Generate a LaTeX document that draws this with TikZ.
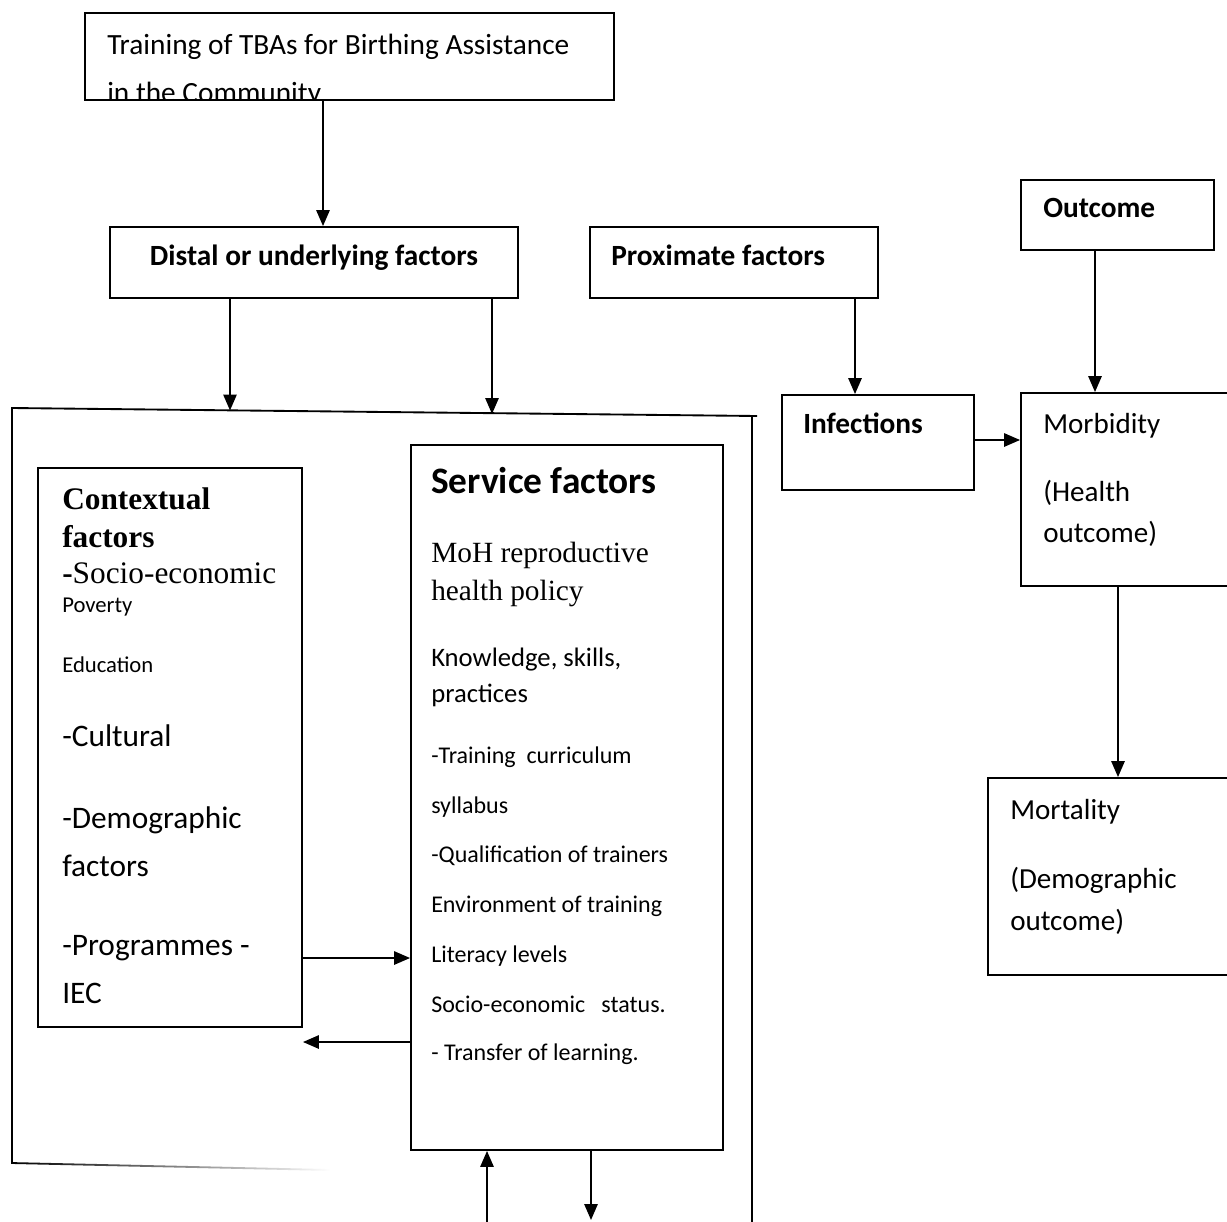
\documentclass[tikz,border=0pt]{standalone}
\usepackage{fontspec}
\setmainfont{Liberation Serif}
\setsansfont{Carlito}
\usetikzlibrary{arrows.meta,fit}
\begin{document}
\begin{tikzpicture}[x=0.75pt,y=-0.75pt,
  box/.style={draw, line width=1.4pt, inner sep=0pt},
  arr/.style={line width=1.4pt, -{Triangle[length=12pt,width=10pt]}},
  txt/.style={anchor=base west, inner sep=0pt, font=\sffamily\fontsize{20}{24}\selectfont},
  btxt/.style={txt, font=\sffamily\bfseries\fontsize{22}{26}\selectfont},
  small/.style={txt, font=\sffamily\fontsize{18}{21}\selectfont},
  tiny/.style={txt, font=\sffamily\fontsize{17}{20}\selectfont},
  mid/.style={txt, font=\sffamily\fontsize{23.5}{28}\selectfont},
  outt/.style={txt, font=\sffamily\fontsize{21.8}{26}\selectfont},
  serif/.style={txt, font=\rmfamily\fontsize{22}{26}\selectfont},
  bserif/.style={txt, font=\rmfamily\bfseries\fontsize{23.5}{28}\selectfont}]
\clip (0,0) rectangle (1227,1221);
\fill[white] (0,0) rectangle (1227,1221);

% boxes
\node[box, fit={(85,13) (614,100)}] (top) {};
\node[box, fit={(110,227) (518,298)}] (distal) {};
\node[box, fit={(590,227) (878,298)}] (prox) {};
\node[box, fit={(1021,180) (1214,250)}] (outc) {};
\node[box, fit={(38,468) (302,1027)}] (ctx) {};
\node[box, fit={(411,445) (723,1150)}] (svc) {};
\node[box, fit={(782,395) (974,490)}] (inf) {};
\node[box, fit={(1021,393) (1245,586)}] (morb) {};
\node[box, fit={(988,778) (1245,975)}] (mort) {};

% outer frame
\draw[line width=1.4pt] (12,1163) -- (12,408) -- (757,416);
\draw[line width=1.4pt] (752,416) -- (752,1225);
\shade[left color=black, middle color=black, right color=white] (11.1,1162.1) -- (330,1169.1) -- (330,1170.9) -- (11.1,1163.9) -- cycle;

% coordinates for free ends
\coordinate (f1) at (230,410.5);
\coordinate (f2) at (492,414);
\coordinate (b1) at (487,1224);
\coordinate (b2) at (591,1220);

% top box text (clipped)
\begin{scope}
\clip (85,13) rectangle (614,99.5);
\node[txt, font=\sffamily\fontsize{22}{26}\selectfont] (t1) at (107,54) {Training of TBAs for Birthing Assistance};
\node[txt, font=\sffamily\fontsize{22}{26}\selectfont] (t2) at (107,102) {in the Community};
\end{scope}

\node[btxt, anchor=base] (distalt) at (314,265) {Distal or underlying factors};
\node[btxt] (proxt) at (611,265) {Proximate factors};
\node[btxt] (outct) at (1043,217) {Outcome};
\node[btxt] (inft) at (803,433) {Infections};

\node[outt] (m1) at (1043,433) {Morbidity};
\node[outt] (m2) at (1043,501) {(Health};
\node[outt] (m3) at (1043,542) {outcome)};
\node[outt] (d1) at (1010,819) {Mortality};
\node[outt] (d2) at (1010,888) {(Demographic};
\node[outt] (d3) at (1010,930) {outcome)};

% contextual
\node[bserif] (c1) at (62,509) {Contextual};
\node[bserif] (c2) at (62,547) {factors};
\node[serif, font=\rmfamily\fontsize{23.5}{28}\selectfont] (c3) at (62,583) {\textbf{-}Socio-economic};
\node[tiny] (c4) at (62,612) {Poverty};
\node[tiny] (c5) at (62,672) {Education};
\node[mid] (c6) at (62,746) {-Cultural};
\node[mid] (c7) at (62,828) {-Demographic};
\node[mid] (c8) at (62,876) {factors};
\node[mid] (c9) at (62,955) {-Programmes -};
\node[mid] (c10) at (62,1003) {IEC};

% service
\node[txt, font=\sffamily\bfseries\fontsize{28}{32}\selectfont] (s1) at (431,493) {Service factors};
\node[serif] (s2) at (431,562) {MoH reproductive};
\node[serif] (s3) at (431,600) {health policy};
\node[txt] (s4) at (431,666) {Knowledge, skills,};
\node[txt] (s5) at (431,702) {practices};
\node[small] (s6) at (431,763) {-Training\ \ curriculum};
\node[small] (s7) at (431,813) {syllabus};
\node[small] (s8) at (431,862) {-Qualification of trainers};
\node[small] (s9) at (431,912) {Environment of training};
\node[small] (s10) at (431,962) {Literacy levels};
\node[small] (s11) at (431,1012) {Socio-economic\ \ \ status.};
\node[small] (s12) at (431,1060) {- Transfer of learning.};

% connectors
\draw[arr] (top.south -| 323,0) -- (distal.north -| 323,0);
\draw[arr] (distal.south -| 230,0) -- (f1);
\draw[arr] (distal.south -| 492,0) -- (f2);
\draw[arr] (prox.south -| 855,0) -- (inf.north -| 855,0);
\draw[arr] (outc.south -| 1095,0) -- (morb.north -| 1095,0);
\draw[arr] (inf.east |- 0,440) -- (morb.west |- 0,440);
\draw[arr] (morb.south -| 1118,0) -- (mort.north -| 1118,0);
\draw[arr] (ctx.east |- 0,958) -- (svc.west |- 0,958);
\draw[arr] (svc.west |- 0,1042) -- (ctx.east |- 0,1042);
\draw[arr] (b1) -- (svc.south -| 487,0);
\draw[arr] (svc.south -| 591,0) -- (b2);
\end{tikzpicture}
\end{document}
